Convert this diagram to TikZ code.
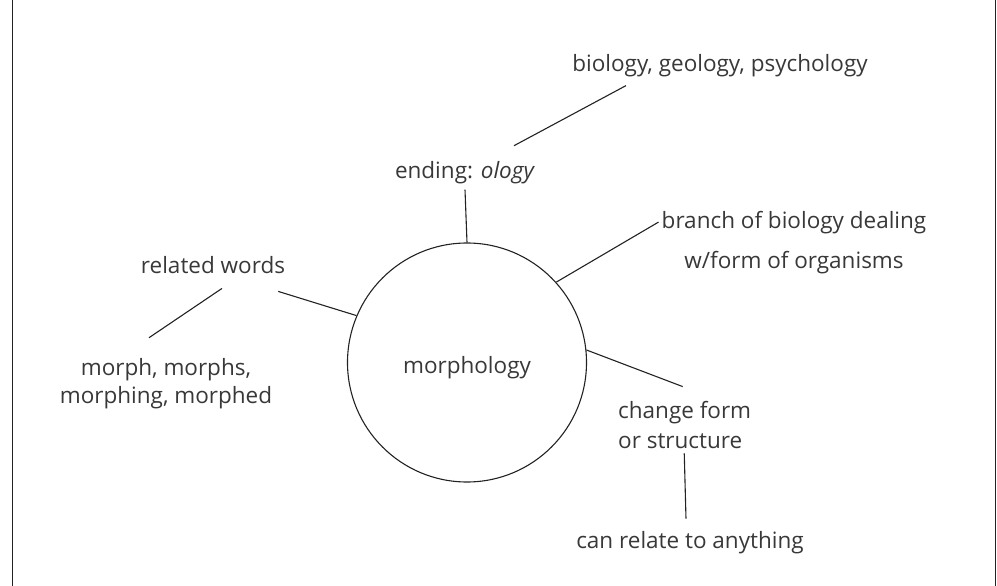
\documentclass[tikz,border=0pt]{standalone}
\usepackage{fontspec}
\setmainfont{Open Sans}
\definecolor{txt}{HTML}{383838}
\definecolor{ln}{HTML}{222222}
\tikzset{
  lbl/.style={font=\fontsize{22.5}{27}\selectfont, text=txt, inner sep=3pt},
  conn/.style={draw=ln, line width=1.1pt},
  hub/.style={circle, draw=ln, line width=1.1pt, minimum size=239pt, inner sep=0pt,
    font=\fontsize{22.5}{27}\selectfont, text=txt, text height=21pt, text depth=0pt},
  frameline/.style={draw=ln, line width=1.4pt}
}
\begin{document}
\begin{tikzpicture}[x=1pt,y=-1pt]
\useasboundingbox (0,0) rectangle (997,586);
\draw[frameline] (12.5,0) -- (12.5,586);
\draw[frameline] (995.5,0) -- (995.5,586);

\node[hub] (main) at (467,362.5) {morphology};
\node[lbl, anchor=base] (ending) at (465,178) {ending: \textit{ology}};
\node[lbl, anchor=base] (bio) at (720,72) {biology, geology, psychology};
\node[lbl, anchor=base] (branch1) at (794,228) {branch of biology dealing};
\node[lbl, anchor=base] (branch2) at (794,268) {w/form of organisms};
\node[lbl, anchor=base] (related) at (213,273) {related words};
\node[lbl, anchor=base] (morph1) at (166,375) {morph, morphs,};
\node[lbl, anchor=base] (morph2) at (166,403) {morphing, morphed};
\node[lbl, anchor=base west] (change1) at (615,418) {change form};
\node[lbl, anchor=base west] (change2) at (615,448) {or structure};
\node[lbl, anchor=base] (can) at (690,548) {can relate to anything};

\draw[conn] ([yshift=-3pt]ending.south) -- (main.90);
\draw[conn] ([xshift=49pt,yshift=12pt]ending.north) -- ([xshift=-94pt,yshift=-5pt]bio.south);
\draw[conn] (main.42.5) -- (branch1.west);
\draw[conn] ([xshift=-10pt,yshift=-15pt]related.south east) -- (main.157);
\draw[conn] ([xshift=9pt,yshift=-12pt]related.south) -- ([xshift=-17pt,yshift=17pt]morph1.north);
\draw[conn] (main.6.8) -- ([xshift=-2pt,yshift=11pt]change1.north);
\draw[conn] ([xshift=4pt,yshift=-2pt]change2.south) -- ([xshift=-4pt,yshift=9pt]can.north);
\end{tikzpicture}
\end{document}
